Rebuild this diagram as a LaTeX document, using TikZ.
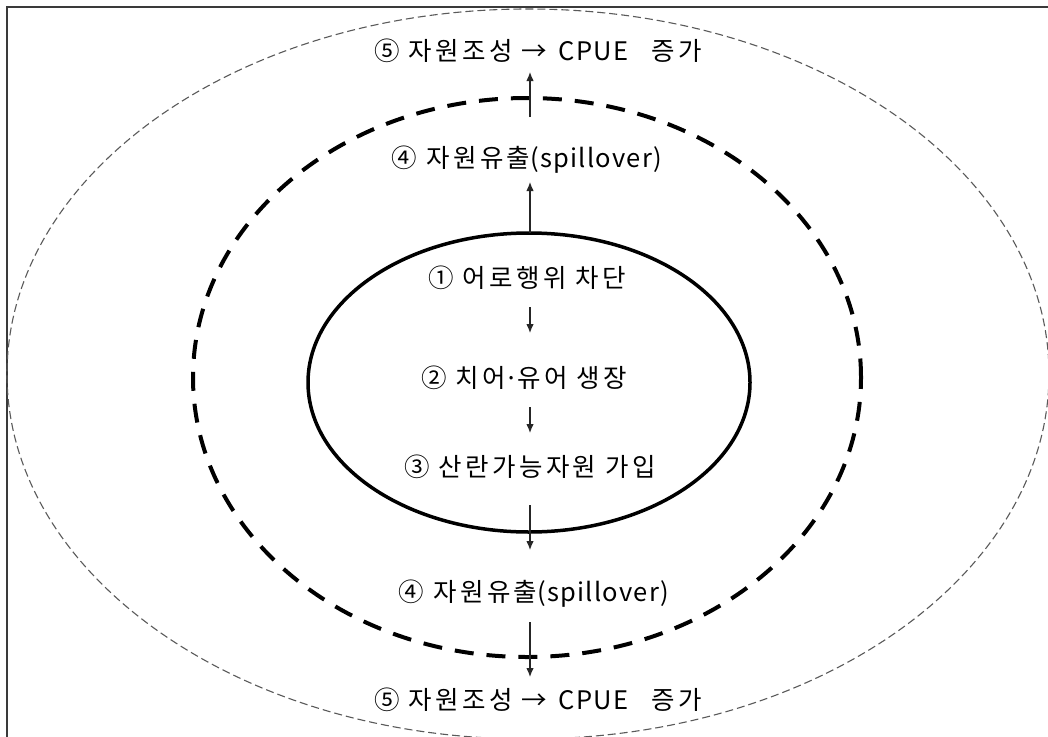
\documentclass[tikz,border=0pt]{standalone}
\usepackage{fontspec}
\setmainfont{Noto Sans CJK KR}
\newfontfamily\ko[LetterSpace=13]{Noto Sans CJK KR}
\newfontfamily\lat[LetterSpace=5]{Noto Sans CJK KR}
\usetikzlibrary{arrows.meta}
\definecolor{framegray}{HTML}{3A3A3A}
\definecolor{outergray}{HTML}{5A5A5A}
\definecolor{arrowgray}{HTML}{262626}
\newcommand{\middot}{\hspace{-0.06em}{\lat ·}\hspace{-0.06em}}
\begin{document}
\begin{tikzpicture}[x=1pt,y=-1pt,
 lbl/.style={inner sep=0pt, font=\fontsize{25.5}{30}\selectfont, text=black},
 flow/.style={line width=1.2pt, draw=arrowgray, -{Latex[length=9pt,width=7.5pt]}},
 outerring/.style={draw=outergray, line width=1.1pt, dash pattern=on 8pt off 4pt},
 midring/.style={draw=black, line width=4pt, dash pattern=on 19pt off 13pt},
 innerring/.style={draw=black, line width=3.5pt},
 frame/.style={draw=framegray, line width=2pt}]
\useasboundingbox (0,0) rectangle (1048,736);
\fill[white] (0,0) rectangle (1048,736);
\draw[frame] (6.5,7) rectangle (1070,760);
\draw[outerring] (528,374) ellipse [x radius=521pt, y radius=365pt];
\draw[midring] (527,377.5) ellipse [x radius=334pt, y radius=279.5pt];
\draw[innerring] (529,382.5) ellipse [x radius=221pt, y radius=149.5pt];
\node[lbl] (t5a) at (538,51) {{\ko ⑤ 자원조성 →}\hspace{0.45em}{\lat CPUE}\hspace{0.9em}{\ko 증가}};
\node[lbl] (t4a) at (527,160) {{\ko ④ 자원유출}{\lat (spillover)}};
\node[lbl] (t1) at (527,278) {\ko ① 어로행위 차단};
\node[lbl] (t2) at (524,378) {{\ko ② 치어}\middot{\ko 유어 생장}};
\node[lbl] (t3) at (530,467) {\ko ③ 산란가능자원 가입};
\node[lbl] (t4b) at (534,594) {{\ko ④ 자원유출}{\lat (spillover)}};
\node[lbl] (t5b) at (538,700) {{\ko ⑤ 자원조성 →}\hspace{0.45em}{\lat CPUE}\hspace{0.9em}{\ko 증가}};
\coordinate (a1s) at (530,117); \coordinate (a1e) at (530,72);
\coordinate (a2s) at (530,233); \coordinate (a2e) at (530,182);
\coordinate (a3s) at (530,307); \coordinate (a3e) at (530,333);
\coordinate (a4s) at (530,407); \coordinate (a4e) at (530,433);
\coordinate (a5s) at (530,505); \coordinate (a5e) at (530,550);
\coordinate (a6s) at (530,622); \coordinate (a6e) at (530,677);
\draw[flow] (a1s) -- (a1e);
\draw[flow] (a2s) -- (a2e);
\draw[flow] (a3s) -- (a3e);
\draw[flow] (a4s) -- (a4e);
\draw[flow] (a5s) -- (a5e);
\draw[flow] (a6s) -- (a6e);
\end{tikzpicture}
\end{document}
